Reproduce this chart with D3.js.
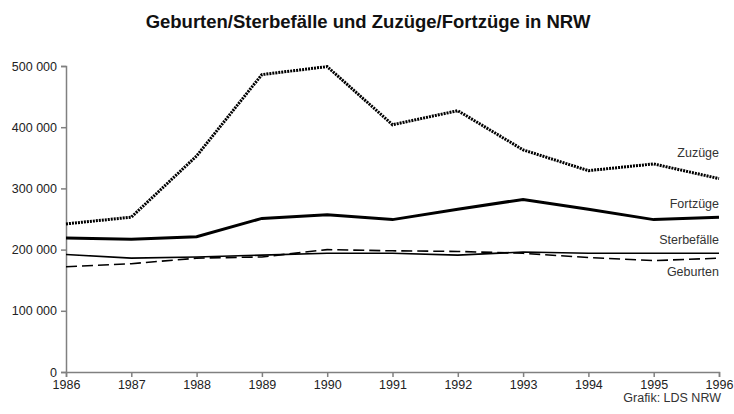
<!DOCTYPE html>
<html>
<head>
<meta charset="utf-8">
<script src="https://cdn.jsdelivr.net/npm/d3@7"></script>
<style>
  body { margin: 0; background: #fff; }
  svg { font-family: "Liberation Sans", Arial, sans-serif; }
</style>
</head>
<body>
<div id="chart"></div>
<script>
const years = [1986, 1987, 1988, 1989, 1990, 1991, 1992, 1993, 1994, 1995, 1996];
const zuzuege = [242000, 253000, 353000, 486000, 499000, 404000, 427000, 363000, 329000, 340000, 316000];
const fortzuege = [219000, 217000, 221000, 251000, 257000, 249000, 266000, 282000, 266000, 249000, 253000];
const sterbefaelle = [192000, 186000, 188000, 191000, 194000, 194000, 191000, 196000, 194000, 194000, 194000];
const geburten = [172000, 177000, 186000, 188000, 200000, 198000, 197000, 194000, 187000, 182000, 186000];
const yTicks = [0, 100000, 200000, 300000, 400000, 500000];
const seriesNames = ["Zuzüge", "Fortzüge", "Sterbefälle", "Geburten"];

const width = 734, height = 414;
let margin = { left: 66, right: 15, top: 66, bottom: 42 };
let innerW = width - margin.left - margin.right;
let innerH = height - margin.top - margin.bottom;

let svg = d3.select('#chart').append('svg')
    .attr('width', width)
    .attr('height', height);

svg.append('text')
    .attr('x', 368)
    .attr('y', 28)
    .attr('text-anchor', 'middle')
    .attr('font-size', 18.5)
    .attr('font-weight', 'bold')
    .attr('fill', '#111')
    .text('Geburten/Sterbefälle und Zuzüge/Fortzüge in NRW');

let g = svg.append('g')
    .attr('transform', 'translate(' + margin.left + ',' + margin.top + ')');

let x = d3.scaleLinear().domain([1986, 1996]).range([0, innerW]);
let y = d3.scaleLinear().domain([0, 500000]).range([innerH, 0]);

let de = d3.formatLocale({ decimal: ',', thousands: ' ', grouping: [3], currency: ['', '€'] });

let yAxis = d3.axisLeft(y).tickValues(yTicks).tickSize(5).tickPadding(4)
    .tickFormat(de.format(',d'));
let xAxis = d3.axisBottom(x).tickValues(years).tickSize(5).tickPadding(3)
    .tickFormat(d3.format('d'));

let ya = g.append('g').call(yAxis);
let xa = g.append('g').attr('transform', 'translate(0,' + innerH + ')').call(xAxis);

[ya, xa].forEach(function(a) {
  a.selectAll('path, line').attr('stroke', '#808080').attr('stroke-width', 1.5);
  a.selectAll('text').attr('fill', '#222').attr('font-size', 12.5)
    .attr('font-family', '"Liberation Sans", Arial, sans-serif');
});

let data = [zuzuege, fortzuege, sterbefaelle, geburten];
let styles = [
  { w: 3, dash: '2,1' },
  { w: 3, dash: null },
  { w: 1.6, dash: null },
  { w: 1.6, dash: '11,5' }
];

let line = d3.line()
    .x(function(d, i) { return x(years[i]); })
    .y(function(d) { return y(d); });

data.forEach(function(s, k) {
  g.append('path')
    .attr('fill', 'none')
    .attr('stroke', '#000')
    .attr('stroke-width', styles[k].w)
    .attr('stroke-dasharray', styles[k].dash)
    .attr('d', line(s));
});

let labelY = [153, 204, 240, 272];
seriesNames.forEach(function(n, k) {
  svg.append('text')
    .attr('x', 719)
    .attr('y', labelY[k])
    .attr('dy', '0.35em')
    .attr('text-anchor', 'end')
    .attr('font-size', 12.5)
    .attr('fill', '#333')
    .text(n);
});

svg.append('text')
    .attr('x', 721)
    .attr('y', 398)
    .attr('dy', '0.35em')
    .attr('text-anchor', 'end')
    .attr('font-size', 12.5)
    .attr('fill', '#333')
    .text('Grafik: LDS NRW');
</script>
</body>
</html>
